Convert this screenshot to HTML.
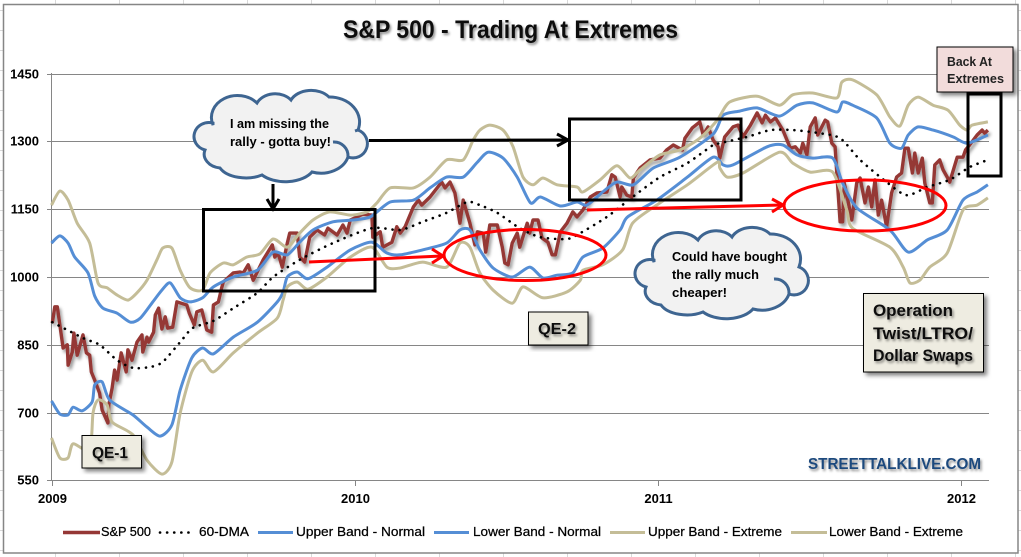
<!DOCTYPE html>
<html>
<head>
<meta charset="utf-8">
<title>S&amp;P 500 - Trading At Extremes</title>
<style>
html,body{margin:0;padding:0;background:#fff;}
svg{display:block;}
text{font-family:"Liberation Sans",sans-serif;}
</style>
</head>
<body>
<svg id="chart" xmlns="http://www.w3.org/2000/svg" width="1021" height="557" viewBox="0 0 1021 557">
<defs>
<filter id="lineShadow" x="-5%" y="-5%" width="110%" height="110%"><feDropShadow dx="2" dy="3" stdDeviation="1.5" flood-color="#000" flood-opacity="0.4"/></filter>
<filter id="boxShadow" x="-20%" y="-20%" width="140%" height="140%"><feDropShadow dx="3" dy="3" stdDeviation="2" flood-color="#000" flood-opacity="0.5"/></filter>
<filter id="textShadow" x="-10%" y="-30%" width="120%" height="170%"><feDropShadow dx="1.5" dy="2" stdDeviation="1.2" flood-color="#000" flood-opacity="0.45"/></filter>
</defs>
<g id="sheetGrid"></g>
<rect x="3.5" y="4.5" width="1014.5" height="548.5" fill="#fff" stroke="#868686" stroke-width="1.5"/>
<text x="343" y="38" font-size="25" font-weight="bold" fill="#111" textLength="335" lengthAdjust="spacingAndGlyphs" filter="url(#textShadow)">S&amp;P 500 - Trading At Extremes</text>
<g id="axes"></g>
<g id="series"></g>

<g>
<rect x="203.5" y="209.5" width="171.5" height="81.5" fill="none" stroke="#000" stroke-width="3"/>
<rect x="569.5" y="119" width="171.5" height="81" fill="none" stroke="#000" stroke-width="3"/>
<rect x="968" y="94" width="33" height="82" fill="none" stroke="#000" stroke-width="3"/>
<ellipse cx="525" cy="255" rx="81" ry="25.5" fill="none" stroke="#f00" stroke-width="3"/>
<ellipse cx="865" cy="205.5" rx="81" ry="25.5" fill="none" stroke="#f00" stroke-width="3"/>
<g fill="none" stroke="#f00" stroke-width="3"><path d="M309,262 L442,256"/><path d="M432,249 L443,256 L432,263"/></g>
<g fill="none" stroke="#f00" stroke-width="3"><path d="M587,210 L782,205"/><path d="M772,199 L783,205 L772,212"/></g>
<g fill="none" stroke="#000" stroke-width="3"><path d="M273,184 L273,208"/><path d="M267,199 L273,209 L279,199"/></g>
<g fill="none" stroke="#000" stroke-width="3"><path d="M369,140.5 L566,140"/><path d="M557,134 L568,140 L557,146"/></g>

<g>
<path d="M213,125 A26,22 0 0 1 257,103 A20,16 0 0 1 291,100 A22,16 0 0 1 329,97 A30,25 0 0 1 358,130 A14,14 0 0 1 348,157 A28,22 0 0 1 312,172 A30,18 0 0 1 262,175 A28,16 0 0 1 220,168 A18,14 0 0 1 205,150 A15,14 0 0 1 213,123 Z" fill="#f2f2f2" stroke="#3e6591" stroke-width="3"/>
<path d="M333,142 A14,14 0 0 1 348,157 M358,130 L355,131" fill="none" stroke="#3e6591" stroke-width="3"/>
</g>
<text x="230" y="128" font-size="13" font-weight="bold" fill="#000" textLength="99" lengthAdjust="spacingAndGlyphs">I am missing the</text>
<text x="230" y="146" font-size="13" font-weight="bold" fill="#000" textLength="101" lengthAdjust="spacingAndGlyphs">rally - gotta buy!</text>

<g transform="translate(441,137)">
<path d="M213,125 A26,22 0 0 1 257,103 A20,16 0 0 1 291,100 A22,16 0 0 1 329,97 A30,25 0 0 1 358,130 A14,14 0 0 1 348,157 A28,22 0 0 1 312,172 A30,18 0 0 1 262,175 A28,16 0 0 1 220,168 A18,14 0 0 1 205,150 A15,14 0 0 1 213,123 Z" fill="#f2f2f2" stroke="#3e6591" stroke-width="3"/>
<path d="M333,142 A14,14 0 0 1 348,157" fill="none" stroke="#3e6591" stroke-width="3"/>
</g>
<text x="672" y="261" font-size="13" font-weight="bold" fill="#000" textLength="115" lengthAdjust="spacingAndGlyphs">Could have bought</text>
<text x="672" y="279" font-size="13" font-weight="bold" fill="#000" textLength="87" lengthAdjust="spacingAndGlyphs">the rally much</text>
<text x="672" y="297" font-size="13" font-weight="bold" fill="#000" textLength="55" lengthAdjust="spacingAndGlyphs">cheaper!</text>

<rect x="82" y="435.5" width="59.5" height="32.5" fill="#eeece1" stroke="#000" stroke-width="1" filter="url(#boxShadow)"/>
<text x="92" y="458" font-size="16" font-weight="bold" fill="#111" textLength="36" lengthAdjust="spacingAndGlyphs" filter="url(#textShadow)">QE-1</text>
<rect x="528.5" y="312" width="59.5" height="33" fill="#eeece1" stroke="#000" stroke-width="1" filter="url(#boxShadow)"/>
<text x="538" y="334" font-size="16" font-weight="bold" fill="#111" textLength="38" lengthAdjust="spacingAndGlyphs" filter="url(#textShadow)">QE-2</text>
<rect x="863.5" y="293.5" width="120" height="78.5" fill="#eeece1" stroke="#000" stroke-width="1" filter="url(#boxShadow)"/>
<g font-size="17" font-weight="bold" fill="#111" filter="url(#textShadow)">
<text x="873" y="316" textLength="80" lengthAdjust="spacingAndGlyphs">Operation</text>
<text x="873" y="339" textLength="100" lengthAdjust="spacingAndGlyphs">Twist/LTRO/</text>
<text x="873" y="361" textLength="100" lengthAdjust="spacingAndGlyphs">Dollar Swaps</text>
</g>
<rect x="937" y="47" width="76" height="45" fill="#f2dcdb" stroke="#000" stroke-width="1" filter="url(#boxShadow)"/>
<text x="947" y="66" font-size="13" font-weight="bold" fill="#222" textLength="45" lengthAdjust="spacingAndGlyphs">Back At</text>
<text x="947" y="83" font-size="13" font-weight="bold" fill="#222" textLength="57" lengthAdjust="spacingAndGlyphs">Extremes</text>
<text x="808" y="469" font-size="16" font-weight="bold" fill="#1f497d" textLength="173" lengthAdjust="spacingAndGlyphs" filter="url(#textShadow)">STREETTALKLIVE.COM</text>
</g>

<g id="legend"></g>
</svg>

<script>
// Axis tick values
const yTickValues = [550, 700, 850, 1000, 1150, 1300, 1450];
const xTickLabels = ['2009', '2010', '2011', '2012'];
const xTickDays = [0, 365, 730, 1095];

// Series: dates are days since 2009-01-01, values are index levels
const spDays = [1,4,7,14,19,20,25,27,31,38,42,46,48,52,58,61,68,69,73,76,79,84,90,92,97,103,109,110,115,117,123,125,129,133,137,140,146,151,163,166,172,175,181,187,193,195,201,205,207,219,227,231,237,243,255,266,269,273,278,284,287,296,299,305,311,320,329,333,344,351,356,360,375,386,387,396,399,410,416,420,426,436,442,446,456,470,474,480,486,492,496,504,510,513,520,523,528,537,543,546,550,555,561,564,573,576,580,586,591,598,603,607,613,621,628,633,640,649,657,669,675,679,685,687,693,699,701,709,721,733,741,749,760,763,772,781,785,791,797,803,805,811,821,827,833,842,850,856,860,866,872,881,890,896,902,905,910,914,920,923,932,935,940,944,946,950,953,955,960,964,970,974,980,984,988,992,996,1000,1006,1012,1018,1024,1028,1032,1037,1040,1044,1049,1052,1058,1061,1064,1070,1074,1079,1082,1091,1098,1101,1106,1115,1121,1124,1128];
const spValues = [898,934,934,843,850,805,834,876,827,872,832,827,790,772,743,706,677,717,754,794,772,832,790,839,816,856,872,834,867,856,878,916,931,885,912,887,889,945,938,920,894,923,927,883,878,938,945,976,989,1009,1011,1009,1027,993,1038,1071,1044,1053,1022,1075,1097,1097,1044,1033,1088,1104,1093,1108,1093,1115,1097,1126,1139,1137,1088,1100,1066,1077,1111,1097,1111,1155,1170,1159,1177,1210,1197,1210,1186,1119,1170,1119,1071,1100,1097,1055,1115,1115,1066,1031,1027,1075,1097,1066,1119,1097,1126,1126,1086,1077,1049,1049,1100,1119,1144,1133,1148,1177,1186,1188,1226,1221,1177,1199,1181,1177,1219,1241,1259,1263,1281,1292,1281,1307,1330,1343,1314,1332,1303,1288,1263,1310,1332,1336,1310,1336,1363,1341,1358,1343,1352,1325,1285,1288,1274,1296,1270,1332,1352,1314,1347,1343,1296,1288,1230,1122,1122,1208,1164,1126,1208,1219,1164,1199,1155,1215,1137,1170,1111,1186,1221,1230,1285,1285,1230,1274,1230,1263,1208,1164,1164,1248,1259,1237,1221,1210,1265,1265,1281,1292,1314,1325,1318,1325];

const dmaDays = [1,38,58,79,98,119,134,155,170,195,219,248,267,299,339,386,420,447,476,501,516,537,564,589,621,637,669,700,733,766,797,805,838,866,893,922,950,974,1006,1030,1055,1082,1106,1128];
const dmaValues = [900,865,850,816,799,801,812,856,887,903,931,965,1000,1038,1075,1108,1104,1122,1142,1166,1159,1142,1108,1088,1084,1097,1133,1177,1221,1252,1292,1296,1310,1325,1325,1319,1307,1259,1210,1181,1199,1215,1243,1259];

const upperNormalDays = [0,10,20,28,44,52,62,79,95,107,122,133,143,155,167,182,195,219,248,267,284,299,315,339,363,384,408,436,456,476,496,513,526,544,561,577,589,613,633,645,664,681,701,725,757,797,809,829,850,877,898,917,946,953,965,994,1010,1024,1032,1044,1062,1086,1103,1128];
const upperNormalValues = [1075,1091,1075,1044,1009,958,931,920,900,909,945,971,987,954,945,954,978,1000,1015,1055,1049,1077,1104,1122,1126,1133,1166,1170,1197,1221,1221,1254,1276,1263,1221,1164,1177,1157,1166,1159,1188,1210,1204,1241,1265,1316,1358,1367,1374,1356,1380,1385,1365,1387,1380,1352,1296,1285,1314,1332,1325,1310,1296,1314];

const lowerNormalDays = [0,10,20,26,37,49,52,61,70,98,115,131,145,155,169,182,195,219,248,272,279,284,296,309,332,360,386,404,420,447,476,492,504,516,532,555,576,592,609,628,640,664,685,694,729,766,797,809,821,862,881,898,917,941,953,970,1010,1032,1055,1079,1098,1115,1128];
const lowerNormalValues = [726,697,695,712,704,724,761,768,728,695,668,648,673,750,821,843,830,867,900,945,967,1000,1011,996,1022,1060,1077,1053,1049,1060,1075,1104,1104,1060,1020,1000,1022,998,1004,1009,1044,1064,1104,1133,1170,1221,1265,1248,1248,1288,1292,1270,1263,1263,1208,1153,1104,1055,1082,1104,1170,1188,1204];

const upperExtremeDays = [0,10,20,31,46,56,67,79,92,103,115,127,134,145,155,167,182,191,207,219,235,251,267,284,299,315,335,360,380,392,408,436,456,476,496,508,516,528,544,556,568,580,592,609,633,640,661,681,697,709,733,757,781,802,817,850,877,893,917,946,952,965,994,1010,1022,1032,1044,1062,1080,1094,1103,1109,1128];
const upperExtremeValues = [1159,1190,1170,1119,1075,987,976,960,949,965,993,1038,1064,1064,1015,976,971,1009,1031,1027,1044,1051,1084,1066,1097,1126,1144,1137,1144,1164,1197,1197,1221,1259,1259,1303,1325,1336,1325,1288,1221,1204,1219,1204,1199,1188,1215,1246,1219,1237,1270,1281,1307,1347,1387,1400,1380,1403,1407,1396,1431,1436,1403,1354,1334,1380,1398,1380,1369,1336,1325,1336,1343];

const lowerExtremeDays = [0,10,20,26,46,50,56,67,73,98,115,133,145,155,169,182,195,219,248,272,279,284,296,309,332,360,386,404,420,447,476,492,504,516,532,555,568,592,621,637,640,664,688,700,729,766,802,805,814,833,877,893,914,941,958,965,1010,1026,1034,1046,1058,1079,1098,1115,1128];
const lowerExtremeValues = [644,600,600,631,617,699,728,717,679,651,595,564,591,699,790,816,790,832,876,909,949,978,989,973,1000,1044,1066,1022,1020,1033,1022,1075,1066,1009,971,942,978,954,967,993,1015,1027,1060,1119,1159,1204,1254,1241,1221,1230,1276,1252,1232,1232,1148,1108,1066,1022,987,993,1022,1053,1148,1159,1175];

const legendLabels = ['S&P 500', '60-DMA', 'Upper Band - Normal', 'Lower Band - Normal', 'Upper Band - Extreme', 'Lower Band - Extreme'];

const SVGNS = 'http://www.w3.org/2000/svg';
function xScale(day) { return 51.5 + day * 303 / 365; }
function yScale(value) { return 277 - (value - 1000) / 2.212; }

function svgEl(tag, attrs, parent) {
  const el = document.createElementNS(SVGNS, tag);
  for (const key in attrs) { el.setAttribute(key, attrs[key]); }
  parent.appendChild(el);
  return el;
}

// Faint spreadsheet cell lines around the chart
const sheetGrid = document.getElementById('sheetGrid');
for (let i = 0; i < 16; i++) {
  const vx = 55.5 + i * 64;
  const top = svgEl('line', {x1: vx, x2: vx, y1: 0, y2: 4, stroke: '#d9d9d9'}, sheetGrid);
  
  
  const bottom = svgEl('line', {x1: vx, x2: vx, y1: 553, y2: 557, stroke: '#d9d9d9'}, sheetGrid);
  
  
}
for (let i = 0; i < 28; i++) {
  const hy = 10.5 + i * 20;
  const left = svgEl('line', {x1: 0, x2: 3, y1: hy, y2: hy, stroke: '#d9d9d9'}, sheetGrid);
  
  
  const right = svgEl('line', {x1: 1018, x2: 1021, y1: hy, y2: hy, stroke: '#d9d9d9'}, sheetGrid);
  
  
}

// Axes and gridlines
const axes = document.getElementById('axes');
yTickValues.forEach(function (v) {
  const y = Math.round(yScale(v)) + 0.5;
  const grid = svgEl('line', {x1: 47, x2: 989, y1: y, y2: y, stroke: '#868686', 'stroke-width': 1}, axes);
  
  
  const label = svgEl('text', {x: 39, y: y + 4, 'text-anchor': 'end', 'font-size': 13, 'font-weight': 'bold', fill: '#000'}, axes);
  
  
  label.textContent = String(v);
});
const yAxisLine = svgEl('line', {x1: 51.5, x2: 51.5, y1: 73, y2: 481, stroke: '#868686'}, axes);


xTickDays.forEach(function (d, i) {
  const x = Math.round(xScale(d)) + 0.5;
  const tick = svgEl('line', {x1: x, x2: x, y1: 480, y2: 486, stroke: '#868686'}, axes);
  
  
  const label = svgEl('text', {x: x, y: 503, 'text-anchor': 'middle', 'font-size': 13, 'font-weight': 'bold', fill: '#000'}, axes);
  
  
  label.textContent = xTickLabels[i];
});

// Series lines
const seriesGroup = document.getElementById('series');
function linePath(days, values) {
  return days.map(function (d, i) {
    return (i ? 'L' : 'M') + xScale(d).toFixed(1) + ',' + yScale(values[i]).toFixed(1);
  }).join(' ');
}
// Catmull-Rom style smoothing for the slow-moving bands and average
function smoothPath(days, values) {
  const pts = days.map(function (d, i) { return [xScale(d), yScale(values[i])]; });
  let out = 'M' + pts[0][0].toFixed(1) + ',' + pts[0][1].toFixed(1);
  for (let i = 0; i < pts.length - 1; i++) {
    const p0 = pts[Math.max(i - 1, 0)];
    const p1 = pts[i];
    const p2 = pts[i + 1];
    const p3 = pts[Math.min(i + 2, pts.length - 1)];
    const c1x = p1[0] + (p2[0] - p0[0]) / 8;
    const c1y = p1[1] + (p2[1] - p0[1]) / 8;
    const c2x = p2[0] - (p3[0] - p1[0]) / 8;
    const c2y = p2[1] - (p3[1] - p1[1]) / 8;
    out += ' C' + c1x.toFixed(1) + ',' + c1y.toFixed(1) + ' ' + c2x.toFixed(1) + ',' + c2y.toFixed(1) + ' ' + p2[0].toFixed(1) + ',' + p2[1].toFixed(1);
  }
  return out;
}
function drawSeries(name, d, style) {
  const path = svgEl('path', Object.assign({d: d, fill: 'none', 'stroke-linejoin': 'round'}, style), seriesGroup);
  
  
  return path;
}
const spStyle = {stroke: '#953735', 'stroke-width': 3.4, filter: 'url(#lineShadow)'};
const dmaStyle = {stroke: '#000', 'stroke-width': 2.6, 'stroke-linecap': 'round', 'stroke-dasharray': '0.1 7'};
const blueStyle = {stroke: '#558ed5', 'stroke-width': 3};
const tanStyle = {stroke: '#c4bd97', 'stroke-width': 3};
drawSeries('sp500-line', linePath(spDays, spValues), spStyle);
drawSeries('dma-60-line', smoothPath(dmaDays, dmaValues), dmaStyle);
drawSeries('upper-band-normal-line', smoothPath(upperNormalDays, upperNormalValues), blueStyle);
drawSeries('lower-band-normal-line', smoothPath(lowerNormalDays, lowerNormalValues), blueStyle);
drawSeries('upper-band-extreme-line', smoothPath(upperExtremeDays, upperExtremeValues), tanStyle);
drawSeries('lower-band-extreme-line', smoothPath(lowerExtremeDays, lowerExtremeValues), tanStyle);

// Legend
const legend = document.getElementById('legend');
const legendStyles = [spStyle, dmaStyle, blueStyle, blueStyle, tanStyle, tanStyle];
const legendLayout = [[63, 100, 101, 50], [160, 193, 199, 50], [258, 293, 296, 129], [434, 469, 473, 128], [610, 645, 648, 134], [791, 827, 829, 134]];
legendLabels.forEach(function (text, i) {
  const slot = legendLayout[i];
  const style = Object.assign({}, legendStyles[i]);
  delete style.filter;
  const key = svgEl('line', Object.assign({x1: slot[0], x2: slot[1], y1: 532.5, y2: 532.5}, style), legend);
  
  
  const label = svgEl('text', {x: slot[2], y: 536, 'font-size': 13, fill: '#000', stroke: '#000', 'stroke-width': 0.25, textLength: slot[3], lengthAdjust: 'spacingAndGlyphs'}, legend);
  
  
  label.textContent = text;
});
</script>
</body>
</html>
